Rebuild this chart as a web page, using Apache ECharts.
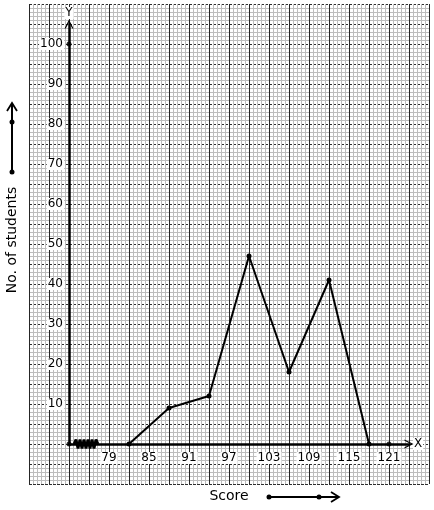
<!DOCTYPE html>
<html>
<head>
<meta charset="utf-8">
<script src="https://cdn.jsdelivr.net/npm/echarts@6/dist/echarts.min.js"></script>
<style>
  html, body { margin: 0; padding: 0; background: #fff; }
  #chart { width: 434px; height: 510px; }
</style>
</head>
<body>
<div id="chart"></div>
<script>
  // class marks and frequencies of the polygon
  var scores = [82, 88, 94, 100, 106, 112, 118];
  var students = [0, 9, 12, 47, 18, 41, 0];
  // extra dots on the axes
  var axisDots = [[73, 0], [73, 100], [121, 0]];
  // tick labels shown on the x axis
  var xTicks = [79, 85, 91, 97, 103, 109, 115, 121];
  // kink (broken axis) marks near the origin
  var kinkX = [73.75, 74.05, 74.35, 74.65, 74.95, 75.25, 75.55, 75.85, 76.15, 76.45, 76.75, 77.05, 77.35];
  var kinkY = [0, 1.1, -1.1, 1.1, -1.1, 1.1, -1.1, 1.1, -1.1, 1.1, -1.1, 1.1, 0];

  var font = 'DejaVu Sans';
  var chevronUp = 'path://M0,10L5,0L10,10L8.6,10L5,3L1.4,10Z';

  var chart = echarts.init(document.getElementById('chart'));

  var option = {
    backgroundColor: '#fff',
    animation: false,
    textStyle: { fontFamily: font },
    grid: [
      // graph paper
      { left: 29, top: 4, width: 400, height: 480 },
      // data area
      { left: 69, top: 24, width: 340, height: 420 }
    ],
    xAxis: [
      {
        gridIndex: 0, type: 'value', min: 0, max: 400, interval: 20,
        axisLine: { show: false }, axisTick: { show: false }, axisLabel: { show: false },
        splitLine: { show: true, lineStyle: { color: '#262626', width: 1 } },
        minorTick: { show: false, splitNumber: 5 },
        minorSplitLine: { show: true, lineStyle: { color: '#bdbdbd', width: 1 } }
      },
      {
        gridIndex: 1, type: 'value', min: 73, max: 124, interval: 6, z: 5,
        name: 'X', nameLocation: 'end', nameGap: 4,
        nameTextStyle: { color: '#000', fontSize: 12, backgroundColor: '#fff', padding: [0, 1] },
        axisLine: {
          show: true, onZero: false,
          symbol: ['none', chevronUp],
          symbolSize: [10, 9], symbolOffset: [0, 0],
          lineStyle: { color: '#000', width: 2.5 }
        },
        axisTick: { show: false },
        splitLine: { show: false },
        axisLabel: {
          color: '#000', fontSize: 12, margin: 8, backgroundColor: '#fff', padding: [0, 1],
          formatter: function (v) { return xTicks.indexOf(v) >= 0 ? String(v) : ''; }
        }
      }
    ],
    yAxis: [
      {
        gridIndex: 0, type: 'value', min: 0, max: 480, interval: 20,
        axisLine: { show: false }, axisTick: { show: false }, axisLabel: { show: false },
        splitLine: { show: true, lineStyle: { color: '#2e2e2e', width: 1, type: [3, 1] } },
        minorTick: { show: false, splitNumber: 5 },
        minorSplitLine: { show: true, lineStyle: { color: '#bdbdbd', width: 1 } }
      },
      {
        gridIndex: 1, type: 'value', min: 0, max: 105, interval: 10, z: 5,
        name: 'Y', nameLocation: 'end', nameGap: 5,
        nameTextStyle: { color: '#000', fontSize: 12, backgroundColor: '#fff', padding: [0, 1], align: 'center' },
        axisLine: {
          show: true, onZero: false,
          symbol: ['none', chevronUp],
          symbolSize: [10, 9],
          lineStyle: { color: '#000', width: 2.5 }
        },
        axisTick: { show: false },
        splitLine: { show: false },
        axisLabel: {
          color: '#000', fontSize: 12, margin: 5, backgroundColor: '#fff', padding: [0, 1],
          formatter: function (v) { return (v > 0 && v <= 100) ? String(v) : ''; }
        }
      }
    ],
    series: [
      {
        type: 'line', xAxisIndex: 1, yAxisIndex: 1, z: 6,
        data: scores.map(function (s, i) { return [s, students[i]]; }),
        symbol: 'circle', symbolSize: 5, showAllSymbol: true,
        lineStyle: { color: '#000', width: 2 },
        itemStyle: { color: '#000' }
      },
      {
        type: 'line', xAxisIndex: 1, yAxisIndex: 1, z: 6, clip: false,
        data: kinkX.map(function (x, i) { return [x, kinkY[i]]; }),
        symbol: 'none',
        lineStyle: { color: '#000', width: 2.8 }
      },
      {
        type: 'scatter', xAxisIndex: 1, yAxisIndex: 1, z: 7, clip: false,
        data: axisDots, symbol: 'circle', symbolSize: 5,
        itemStyle: { color: '#000' }
      }
    ],
    graphic: [
      {
        type: 'text', x: 12, y: 240, rotation: Math.PI / 2,
        style: { text: 'No. of students', font: '14px "DejaVu Sans"', fill: '#000', align: 'center', verticalAlign: 'middle' }
      },
      { type: 'line', shape: { x1: 12, y1: 172, x2: 12, y2: 104 }, style: { stroke: '#000', lineWidth: 2 } },
      { type: 'polyline', shape: { points: [[7, 111], [12, 103], [17, 111]] }, style: { stroke: '#000', lineWidth: 1.8, fill: null } },
      { type: 'circle', shape: { cx: 12, cy: 122, r: 2.5 }, style: { fill: '#000' } },
      { type: 'circle', shape: { cx: 12, cy: 172, r: 2.5 }, style: { fill: '#000' } },
      {
        type: 'text', x: 229, y: 496,
        style: { text: 'Score', font: '14px "DejaVu Sans"', fill: '#000', align: 'center', verticalAlign: 'middle' }
      },
      { type: 'line', shape: { x1: 269, y1: 497, x2: 338, y2: 497 }, style: { stroke: '#000', lineWidth: 2 } },
      { type: 'polyline', shape: { points: [[331, 492], [339, 497], [331, 502]] }, style: { stroke: '#000', lineWidth: 1.8, fill: null } },
      { type: 'circle', shape: { cx: 269, cy: 497, r: 2.5 }, style: { fill: '#000' } },
      { type: 'circle', shape: { cx: 319, cy: 497, r: 2.5 }, style: { fill: '#000' } }
    ]
  };

  chart.setOption(option);
</script>
</body>
</html>
